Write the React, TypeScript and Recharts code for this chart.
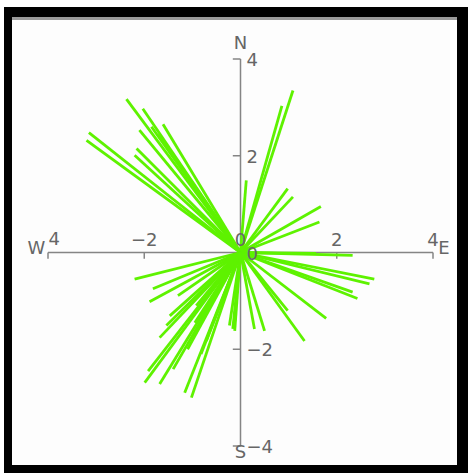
import React from "react";
import { ScatterChart, Scatter, XAxis, YAxis, ReferenceLine, ReferenceDot } from "recharts";

// vector components (east, north) for each ray from the origin
const EAST = [
  -2.37, -2.03, -2.1, -1.61, -3.15, -3.2, -2.16, -2.2, -1.85, -1.7,
  1.09, 0.86, 0.12, 0.98, 1.09, 1.67, 1.64,
  2.33, 1.57, 2.78, 2.68, 2.33, 2.43, 1.78, 1.33, 0.98, 0.5, 0.29,
  -2.2, -1.82, -1.89, -1.3, -1.47, -1.54, -1.68, -0.92, -1.92, -1.99,
  -1.68, -1.4, -1.16, -1.02, -0.82, -0.71, -0.23, -0.12, -0.16, -1.1, -0.95,
];
const NORTH = [
  3.17, 2.97, 2.53, 2.65, 2.48, 2.32, 2.15, 2.01, 2.6, 2.45,
  3.35, 3.03, 1.49, 1.32, 1.15, 0.95, 0.63,
  -0.06, -0.02, -0.55, -0.65, -0.82, -0.95, -1.36, -1.83, -1.2, -1.62, -1.58,
  -0.55, -0.75, -1.02, -0.89, -1.31, -1.51, -1.76, -1.1, -2.45, -2.69,
  -2.72, -2.41, -2.9, -3.0, -2.1, -1.83, -1.51, -1.62, -1.58, -2.0, -1.45,
];

const AXIS_LIMIT = 4;
const X_TICKS = [-4, -2, 2, 4];
const Y_TICKS = [-4, -2, 2, 4];
// the west end only shows its digit next to the W
const X_LABELS = ["4", "\u22122", "0", "2", "4"];
const X_LABEL_AT = [-4, -2, 0, 2, 4];
const Y_LABELS = ["\u22124", "\u22122", "0", "2", "4"];
const Y_LABEL_AT = [-4, -2, 0, 2, 4];
const COMPASS = ["N", "E", "S", "W"];

const GREEN = "#5ef200";
const AXIS = "#858585";
const TEXT = "#666";

function textAt(value: string, dx: number, dy: number, anchor: "start" | "middle" | "end") {
  return ({ viewBox }: any) => {
    const cx = viewBox.x + viewBox.width / 2;
    const cy = viewBox.y + viewBox.height / 2;
    return (
      <text x={cx + dx} y={cy + dy} textAnchor={anchor} fill={TEXT} fontSize={18} fontFamily="DejaVu Sans">
        {value}
      </text>
    );
  };
}

// where each compass letter sits relative to the axis end
const COMPASS_POS: Record<string, { x: number; y: number; dx: number; dy: number }> = {
  N: { x: 0, y: AXIS_LIMIT, dx: 0, dy: -10.5 },
  E: { x: AXIS_LIMIT, y: 0, dx: 11, dy: 1.5 },
  S: { x: 0, y: -AXIS_LIMIT, dx: 0, dy: 12 },
  W: { x: -AXIS_LIMIT, y: 0, dx: -11.5, dy: 1 },
};

export default function App() {
  return (
    <div style={{ position: "absolute", left: 0, top: 0, width: 468, height: 473, background: "#fff", overflow: "hidden" }}>
      <div style={{ position: "absolute", left: 4, top: 7, width: 464, height: 466, background: "#000" }} />
      <div
        style={{
          position: "absolute",
          left: 12,
          top: 17,
          width: 445,
          height: 448,
          background: "#fdfdfd",
          borderTop: "3px solid #9a9a9a",
          boxSizing: "border-box",
        }}
      />
      <div style={{ position: "absolute", left: 0, top: 0 }}>
        <ScatterChart width={468} height={473} margin={{ left: 48, right: 35, top: 59, bottom: 27 }}>
          <XAxis type="number" dataKey="x" domain={[-AXIS_LIMIT, AXIS_LIMIT]} hide />
          <YAxis type="number" dataKey="y" domain={[-AXIS_LIMIT, AXIS_LIMIT]} hide />

          <ReferenceLine segment={[{ x: -AXIS_LIMIT, y: 0 }, { x: AXIS_LIMIT, y: 0 }]} stroke={AXIS} strokeWidth={1.5} />
          <ReferenceLine segment={[{ x: 0, y: -AXIS_LIMIT }, { x: 0, y: AXIS_LIMIT }]} stroke={AXIS} strokeWidth={1.5} />
          {X_TICKS.map((t) => (
            <ReferenceLine key={`xt${t}`} segment={[{ x: t, y: 0 }, { x: t, y: -0.13 }]} stroke={AXIS} strokeWidth={1.5} />
          ))}
          {Y_TICKS.map((t) => (
            <ReferenceLine key={`yt${t}`} segment={[{ x: -0.16, y: t }, { x: 0, y: t }]} stroke={AXIS} strokeWidth={1.5} />
          ))}

          {EAST.map((u, i) => (
            <Scatter
              key={i}
              data={[{ x: 0, y: 0 }, { x: u, y: NORTH[i] }]}
              fill={GREEN}
              stroke={GREEN}
              line={{ stroke: GREEN, strokeWidth: 2.8 }}
              shape={() => <g />}
              isAnimationActive={false}
            />
          ))}

          {X_LABELS.map((s, i) => (
            <ReferenceDot
              key={`xl${i}`}
              x={X_LABEL_AT[i]}
              y={0}
              r={1}
              fill="none"
              stroke="none"
              label={i === 0 ? textAt(s, 0.5, -8, "start") : textAt(s, 0, -7, "middle")}
            />
          ))}
          {Y_LABELS.map((s, i) => (
            <ReferenceDot key={`yl${i}`} x={0} y={Y_LABEL_AT[i]} r={1} fill="none" stroke="none" label={textAt(s, 6, 7, "start")} />
          ))}
          {COMPASS.map((c) => {
            const p = COMPASS_POS[c];
            return <ReferenceDot key={c} x={p.x} y={p.y} r={1} fill="none" stroke="none" label={textAt(c, p.dx, p.dy, "middle")} />;
          })}
        </ScatterChart>
      </div>
    </div>
  );
}
